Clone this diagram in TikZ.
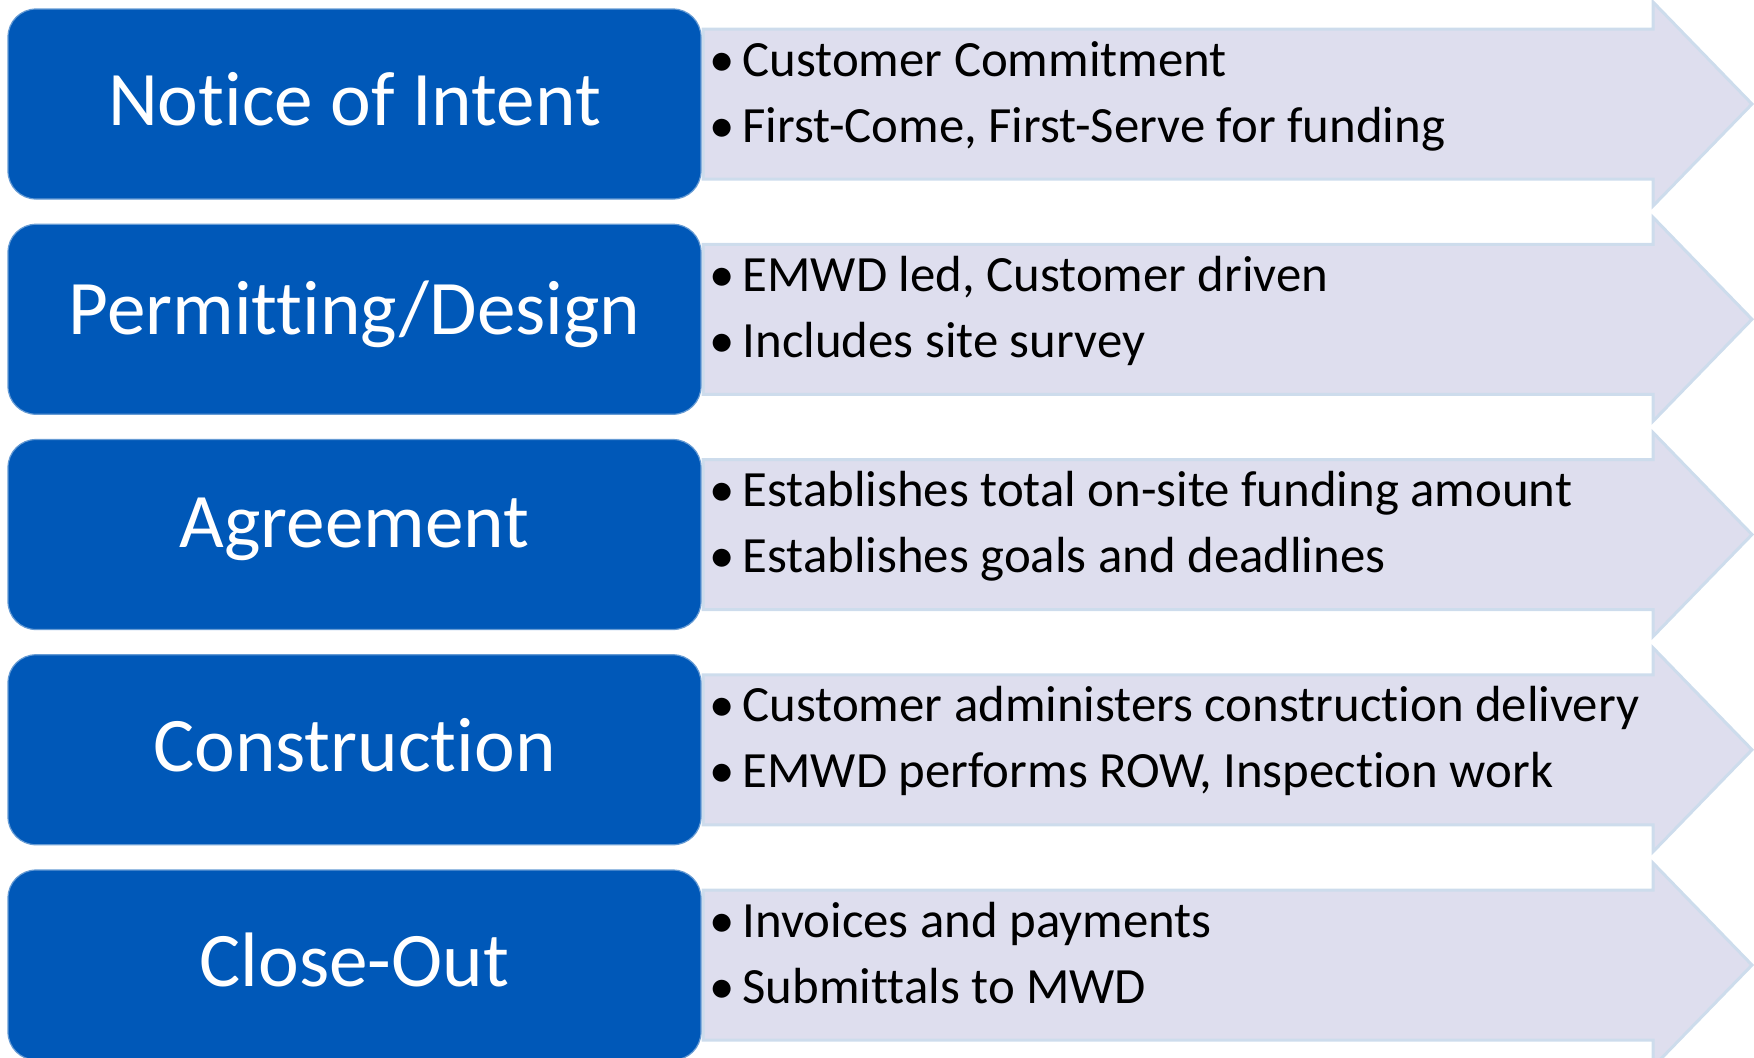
\documentclass[tikz,border=0pt]{standalone}
\usepackage{fontspec}
\setmainfont{Carlito}[Ligatures=NoCommon]
\definecolor{boxblue}{HTML}{0058B8}
\definecolor{arrowfill}{HTML}{DEDEEE}
\definecolor{arrowline}{HTML}{CDDCEC}
\tikzset{
  stage/.style={rectangle, rounded corners=14pt, fill=boxblue, draw=boxblue!60!white, line width=0.6pt,
    minimum width=346.5pt, minimum height=95pt, inner sep=0pt},
  stagetext/.style={inner sep=0pt, text=white, font=\fontsize{38.6}{44}\selectfont},
  arrowshape/.style={fill=arrowfill, draw=arrowline, line width=1.5pt, line join=miter},
  item/.style={anchor=base west, inner sep=0pt, text=black, font=\fontsize{25.4}{29}\selectfont}
}
\newcommand{\bul}{\makebox[16.6pt][l]{•}}
\begin{document}
\begin{tikzpicture}[x=0.5pt,y=-0.5pt]
\useasboundingbox (0,0) rectangle (1754,1057);
\clip (0,0) rectangle (1754,1057);
\foreach \cy [count=\i] in {104,319.25,534.5,749.75,965}{
  \draw[arrowshape] (703,\cy-75) -- (1653,\cy-75) -- (1653,\cy-102) -- (1752,\cy)
     -- (1653,\cy+102) -- (1653,\cy+75) -- (703,\cy+75) -- cycle;
}
\node[stage] (s1) at (354.5,104) {};
\node[stage] (s2) at (354.5,319.25) {};
\node[stage] (s3) at (354.5,534.5) {};
\node[stage] (s4) at (354.5,749.75) {};
\node[stage] (s5) at (354.5,965) {};
\node[stagetext] (l1) at ([yshift=2.5pt]s1.center) {Notice of Intent};
\node[stagetext] (l2) at ([yshift=2.5pt]s2.center) {Permitting/Design};
\node[stagetext] (l3) at ([yshift=2.5pt]s3.center) {Agreement};
\node[stagetext] (l4) at ([yshift=2.5pt]s4.center) {Construction};
\node[stagetext] (l5) at ([yshift=2.5pt]s5.center) {Close-Out};
\node[item] (t1a) at (709,104-28) {\bul Customer Commitment};
\node[item] (t1b) at (709,104+38) {\bul First-Come, First-Serve for funding};
\node[item] (t2a) at (709,319.25-28) {\bul EMWD led, Customer driven};
\node[item] (t2b) at (709,319.25+38) {\bul Includes site survey};
\node[item] (t3a) at (709,534.5-28) {\bul Establishes total on-site funding amount};
\node[item] (t3b) at (709,534.5+38) {\bul Establishes goals and deadlines};
\node[item] (t4a) at (709,749.75-28) {\bul Customer administers construction delivery};
\node[item] (t4b) at (709,749.75+38) {\bul EMWD performs ROW, Inspection work};
\node[item] (t5a) at (709,965-28) {\bul Invoices and payments};
\node[item] (t5b) at (709,965+38) {\bul Submittals to MWD};
\end{tikzpicture}
\end{document}
